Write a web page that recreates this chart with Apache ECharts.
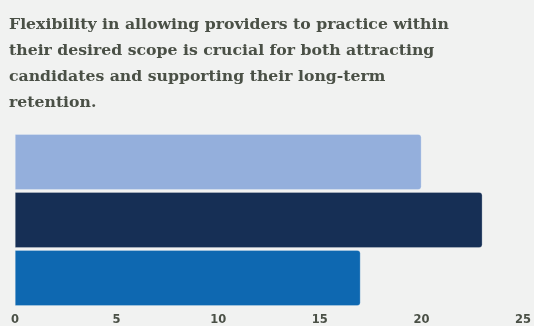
<!DOCTYPE html>
<html><head><meta charset="utf-8">
<script src="https://cdn.jsdelivr.net/npm/echarts@6/dist/echarts.min.js"></script>
<style>html,body{margin:0;padding:0;background:#f1f2f1;}#c{width:534px;height:326px;}</style>
</head><body><div id="c"></div>
<script>
const titleLines = [
  'Flexibility in allowing providers to practice within',
  'their desired scope is crucial for both attracting',
  'candidates and supporting their long-term',
  'retention.'
];
const categories = ['Group 1', 'Group 2', 'Group 3'];
const values = [20, 23, 17];
const barColors = ['#94afdc', '#162f55', '#0e68b1'];
const xTicks = [0, 5, 10, 15, 20, 25];

const chart = echarts.init(document.getElementById('c'));
chart.setOption({
  backgroundColor: '#f1f2f1',
  animation: false,
  title: {
    text: titleLines.join('\n'),
    left: 4, top: 7,
    textStyle: { fontFamily: 'DejaVu Serif', fontWeight: 'bold', fontSize: 15.7, lineHeight: 26, color: '#4a5046' }
  },
  grid: { left: 15, right: 5, top: 133, bottom: 18, containLabel: false },
  xAxis: {
    type: 'value', min: xTicks[0], max: xTicks[xTicks.length - 1], interval: 5,
    axisLine: { show: false }, axisTick: { show: false }, splitLine: { show: false },
    axisLabel: { margin: 7, fontFamily: 'DejaVu Sans', fontWeight: 'bold', fontSize: 11.5, color: '#4a5046' }
  },
  yAxis: {
    type: 'category', data: categories, inverse: true,
    axisLine: { show: false }, axisTick: { show: false }, axisLabel: { show: false }
  },
  series: [{
    type: 'bar', barCategoryGap: '4%',
    data: values.map((v, i) => ({ value: v, itemStyle: { color: barColors[i] } })),
    itemStyle: { borderRadius: [0, 3, 3, 0], borderColor: 'rgba(255,255,255,0.5)', borderWidth: 0.5 }
  }]
});
</script></body></html>
